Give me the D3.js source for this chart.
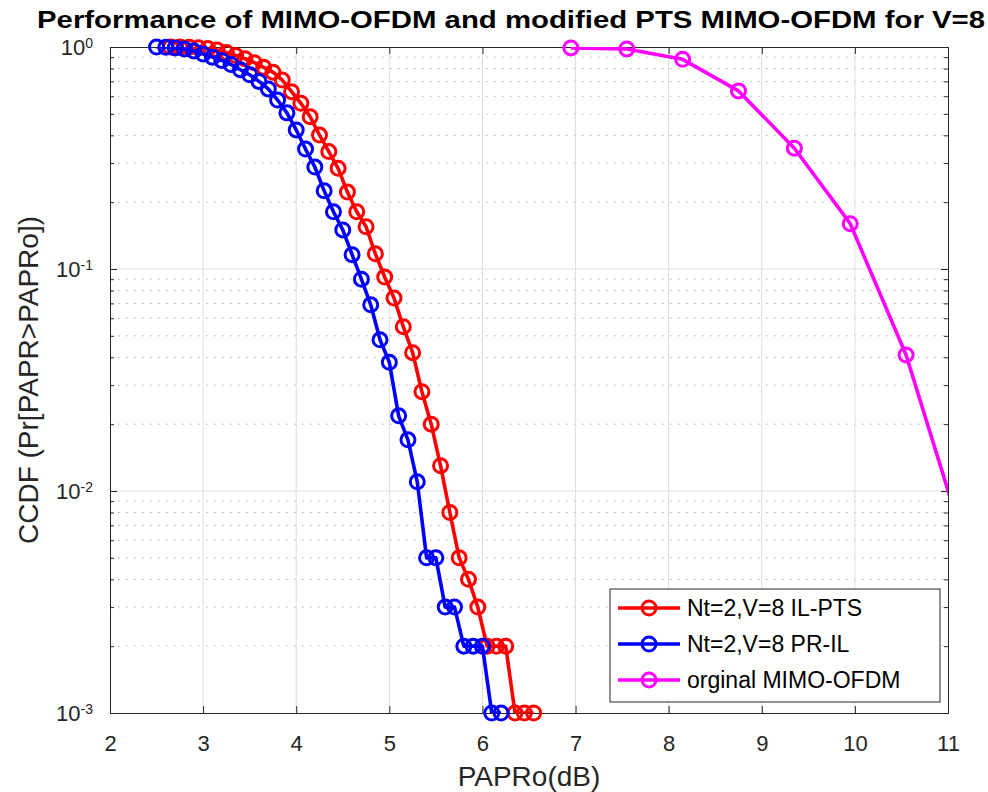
<!DOCTYPE html>
<html>
<head>
<meta charset="utf-8">
<script src="https://cdn.jsdelivr.net/npm/d3@7"></script>
<style>
  body { margin: 0; background: #fff; }
  svg { display: block; font-family: Arial, "Liberation Sans", Helvetica, sans-serif; }
</style>
</head>
<body>
<div id="graph"></div>
<script>
// IL-PTS (red)
const ilptsX = [2.65, 2.75, 2.85, 2.95, 3.05, 3.15, 3.25, 3.35, 3.45, 3.55, 3.65, 3.75, 3.85, 3.95, 4.05, 4.15, 4.25, 4.35, 4.45, 4.55,
  4.65, 4.75, 4.85, 4.95, 5.05, 5.15, 5.25, 5.35, 5.45, 5.55, 5.65, 5.75, 5.85, 5.95, 6.05, 6.15, 6.25, 6.35, 6.45, 6.55];
const ilptsY = [1.0, 1.0, 0.998, 0.993, 0.985, 0.97, 0.945, 0.915, 0.885, 0.85, 0.81, 0.77, 0.71, 0.629, 0.558, 0.485, 0.401, 0.338, 0.284, 0.222,
  0.181, 0.155, 0.117, 0.092, 0.074, 0.055, 0.042, 0.028, 0.020, 0.013, 0.008, 0.005, 0.004, 0.003, 0.002, 0.002, 0.002, 0.001, 0.001, 0.001];
// PR-IL (blue)
const prilX = [2.5, 2.6, 2.7, 2.8, 2.9, 3.0, 3.1, 3.2, 3.3, 3.4, 3.5, 3.6, 3.7, 3.8, 3.9, 4.0, 4.1, 4.2, 4.3, 4.4,
  4.5, 4.6, 4.7, 4.8, 4.9, 5.0, 5.1, 5.2, 5.3, 5.4, 5.5, 5.6, 5.7, 5.8, 5.9, 6.0, 6.1, 6.2];
const prilY = [1.0, 0.997, 0.99, 0.98, 0.96, 0.93, 0.90, 0.87, 0.834, 0.79, 0.75, 0.70, 0.647, 0.577, 0.505, 0.423, 0.347, 0.288, 0.225, 0.181,
  0.150, 0.116, 0.090, 0.069, 0.048, 0.038, 0.0218, 0.017, 0.011, 0.005, 0.005, 0.003, 0.003, 0.002, 0.002, 0.002, 0.001, 0.001];
// original MIMO-OFDM (magenta)
const origX = [6.95, 7.55, 8.15, 8.75, 9.35, 9.95, 10.55, 11.15];
const origY = [0.99, 0.98, 0.88, 0.634, 0.35, 0.16, 0.041, 0.0063];

const xTicks = [2, 3, 4, 5, 6, 7, 8, 9, 10, 11];
const yTicks = [1e-3, 1e-2, 1e-1, 1];
const yTickExp = ["-3", "-2", "-1", "0"];
const legendNames = ["Nt=2,V=8 IL-PTS", "Nt=2,V=8 PR-IL", "orginal MIMO-OFDM"];
const titleText = "Performance of MIMO-OFDM and modified PTS MIMO-OFDM for V=8";

class CcdfGraph {
  constructor(graph) {
    this.width = 988;
    this.height = 792;
    this.padding = { t: 47, b: 79, s: 110, e: 40 };
    this.axisColor = "#262626";
    this.svg = d3.select(graph).append("svg").attr("width", this.width).attr("height", this.height);
    this.series = [
      { x: ilptsX, y: ilptsY, color: "#ff0000" },
      { x: prilX, y: prilY, color: "#0000ff" },
      { x: origX, y: origY, color: "#ff00ff" },
    ];
    this.xScale = d3.scaleLinear().domain([2, 11]).range([this.padding.s, this.width - this.padding.e]);
    this.yScale = d3.scaleLog().domain([1e-3, 1]).range([this.height - this.padding.b, this.padding.t]);
    this.draw();
  }

  draw = () => {
    const [x0, x1] = this.xScale.range();
    const [y1, y0] = this.yScale.range();
    const minor = [];
    yTicks.slice(0, -1).forEach((d) => {
      for (let k = 2; k <= 9; k++) minor.push(d * k);
    });

    // grid
    const grid = this.svg.append("g").attr("class", "grid");
    grid.selectAll(".minor").data(minor).enter().append("line")
      .attr("x1", x0).attr("x2", x1)
      .attr("y1", (d) => this.yScale(d)).attr("y2", (d) => this.yScale(d))
      .attr("stroke", "#b0b0b0").attr("stroke-width", 1).attr("stroke-dasharray", "1.5,6.5");
    grid.selectAll(".vx").data(xTicks.slice(1, -1)).enter().append("line")
      .attr("x1", (d) => this.xScale(d)).attr("x2", (d) => this.xScale(d))
      .attr("y1", y0).attr("y2", y1)
      .attr("stroke", "#dedede").attr("stroke-width", 1);
    grid.selectAll(".hy").data(yTicks.slice(1, -1)).enter().append("line")
      .attr("x1", x0).attr("x2", x1)
      .attr("y1", (d) => this.yScale(d)).attr("y2", (d) => this.yScale(d))
      .attr("stroke", "#dedede").attr("stroke-width", 1);

    // axes
    const xAxis = d3.axisBottom(this.xScale).tickValues(xTicks).tickSize(-7).tickPadding(22).tickFormat(d3.format("d"));
    const xAxisTop = d3.axisTop(this.xScale).tickValues(xTicks).tickSize(-7).tickFormat("");
    const yAxis = d3.axisLeft(this.yScale).tickValues(yTicks).tickSize(-7).tickPadding(17).tickFormat("");
    const yAxisR = d3.axisRight(this.yScale).tickValues(yTicks).tickSize(-7).tickFormat("");
    const yMinorL = d3.axisLeft(this.yScale).tickValues(minor).tickSize(-4).tickFormat("");
    const yMinorR = d3.axisRight(this.yScale).tickValues(minor).tickSize(-4).tickFormat("");

    const addAxis = (axis, tx, ty) =>
      this.svg.append("g").attr("transform", `translate(${tx}, ${ty})`).call(axis)
        .call((g) => g.select(".domain").attr("stroke", this.axisColor))
        .call((g) => g.selectAll(".tick line").attr("stroke", this.axisColor));

    const xg = addAxis(xAxis, 0, y1);
    xg.selectAll("text").attr("font-size", 22).attr("fill", this.axisColor).attr("font-family", null);
    addAxis(xAxisTop, 0, y0);
    const yg = addAxis(yAxis, x0, 0);
    addAxis(yAxisR, x1, 0);
    addAxis(yMinorL, x0, 0).select(".domain").remove();
    addAxis(yMinorR, x1, 0).select(".domain").remove();

    yg.selectAll(".tick text").each(function (d, i) {
      const t = d3.select(this).attr("font-size", 22).attr("fill", "#262626").attr("font-family", null).attr("dy", "0.35em");
      t.append("tspan").text("10");
      t.append("tspan").attr("font-size", 14).attr("dy", "-0.5em").text(yTickExp[i]);
    });

    // data
    const clipId = "plot-clip";
    this.svg.append("clipPath").attr("id", clipId).append("rect")
      .attr("x", x0).attr("y", y0).attr("width", x1 - x0).attr("height", y1 - y0);
    const line = d3.line().x((d) => this.xScale(d[0])).y((d) => this.yScale(d[1]));
    this.series.forEach((s) => {
      const pts = s.x.map((v, i) => [v, s.y[i]]);
      const g = this.svg.append("g");
      g.append("path").datum(pts)
        .attr("d", line).attr("fill", "none")
        .attr("stroke", s.color).attr("stroke-width", 3.6).attr("stroke-linejoin", "round")
        .attr("clip-path", `url(#${clipId})`);
      g.selectAll("circle").data(pts.filter((d) => d[0] <= 11)).enter().append("circle")
        .attr("cx", (d) => this.xScale(d[0])).attr("cy", (d) => this.yScale(d[1]))
        .attr("r", 7).attr("fill", "none").attr("stroke", s.color).attr("stroke-width", 3);
    });

    // legend
    const lg = this.svg.append("g").attr("transform", "translate(610, 589)");
    lg.append("rect").attr("width", 330).attr("height", 113)
      .attr("fill", "#fff").attr("stroke", this.axisColor).attr("stroke-width", 1);
    const items = lg.selectAll(".item").data(legendNames).enter().append("g")
      .attr("transform", (d, i) => `translate(0, ${19 + i * 36})`);
    items.append("line").attr("x1", 8).attr("x2", 70).attr("y1", 0).attr("y2", 0)
      .attr("stroke", (d, i) => this.series[i].color).attr("stroke-width", 3.6);
    items.append("circle").attr("cx", 39).attr("cy", 0).attr("r", 7)
      .attr("fill", "none").attr("stroke", (d, i) => this.series[i].color).attr("stroke-width", 3);
    items.append("text").attr("x", 77).attr("dy", "0.35em").attr("font-size", 23).attr("fill", "#000").text((d) => d);

    // labels
    this.svg.append("text").attr("x", 37).attr("y", 28)
      .attr("font-size", 24).attr("font-weight", "bold").attr("fill", "#000")
      .attr("textLength", 948).attr("lengthAdjust", "spacingAndGlyphs").text(titleText);
    this.svg.append("text").attr("x", (x0 + x1) / 2).attr("y", 786)
      .attr("text-anchor", "middle").attr("font-size", 28).attr("fill", this.axisColor).text("PAPRo(dB)");
    this.svg.append("text").attr("transform", `translate(38, ${(y0 + y1) / 2}) rotate(-90)`)
      .attr("text-anchor", "middle").attr("font-size", 28).attr("fill", this.axisColor).text("CCDF (Pr[PAPR>PAPRo])");
  };
}

new CcdfGraph("#graph");
</script>
</body>
</html>
